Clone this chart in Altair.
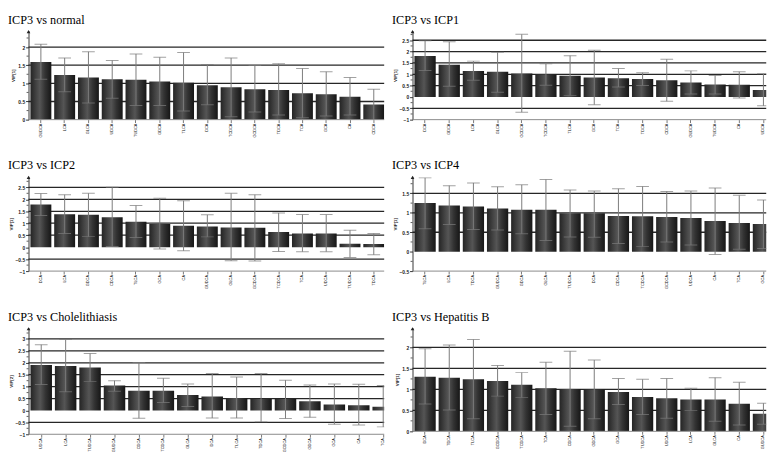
import altair as alt
import pandas as pd

# ---------------- data ----------------
titles = ["ICP3 vs normal", "ICP3 vs ICP1", "ICP3 vs ICP2",
          "ICP3 vs ICP4", "ICP3 vs Cholelithiasis", "ICP3 vs Hepatitis B"]

normal_cats = ["GUDCA", "LCA", "GLCA", "UDCA", "TUDCA", "GDCA", "TLCA", "DCA",
               "TCDCA", "GCDCA", "TDCA", "TCA", "GCA", "CA", "CDCA"]
normal_vip = [1.59, 1.23, 1.16, 1.11, 1.10, 1.05, 1.02, 0.95, 0.89, 0.84, 0.82, 0.73, 0.70, 0.63, 0.42]
normal_hi = [2.08, 1.70, 1.87, 1.63, 1.81, 1.72, 1.85, 1.52, 1.70, 1.49, 1.54, 1.41, 1.32, 1.16, 0.84]
normal_lo = [1.11, 0.77, 0.46, 0.59, 0.39, 0.39, 0.24, 0.41, 0.08, 0.21, 0.13, 0.05, 0.10, 0.13, 0.00]

icp1_cats = ["DCA", "GDCA", "LCA", "GLCA", "GCDCA", "TCDCA", "TLCA", "GCA",
             "TCA", "TDCA", "CDCA", "GUDCA", "TUDCA", "CA", "UDCA"]
icp1_vip = [1.81, 1.42, 1.15, 1.11, 1.03, 0.99, 0.94, 0.86, 0.83, 0.79, 0.74, 0.64, 0.55, 0.54, 0.31]
icp1_hi = [2.48, 2.43, 1.58, 1.97, 2.76, 1.46, 1.82, 2.06, 1.25, 1.07, 1.66, 1.15, 0.95, 1.11, 1.02]
icp1_lo = [1.17, 0.47, 0.74, 0.21, -0.67, 0.52, 0.07, -0.34, 0.44, 0.51, -0.19, 0.13, 0.13, -0.05, -0.39]

icp2_cats = ["DCA", "LCA", "GDCA", "CDCA", "TLCA", "GCA", "CA", "GUDCA",
             "GLCA", "GCDCA", "TCDCA", "TCA", "UDCA", "TUDCA", "TDCA"]
icp2_vip = [1.78, 1.38, 1.35, 1.25, 1.06, 0.97, 0.89, 0.86, 0.82, 0.81, 0.63, 0.57, 0.57, 0.14, 0.13]
icp2_hi = [2.24, 2.19, 2.25, 2.50, 1.74, 2.04, 1.94, 1.35, 2.25, 2.19, 1.43, 1.36, 1.36, 0.71, 0.57]
icp2_lo = [1.32, 0.57, 0.44, 0.03, 0.40, -0.08, -0.15, 0.43, -0.57, -0.58, -0.18, -0.19, -0.19, -0.43, -0.32]

icp4_cats = ["TLCA", "LCA", "TDCA", "GUDCA", "GDCA", "GLCA", "TUDCA", "DCA",
             "CDCA", "TCDCA", "GCDCA", "UDCA", "CA", "TCA", "GCA"]
icp4_vip = [1.25, 1.19, 1.16, 1.11, 1.08, 1.08, 0.99, 0.99, 0.92, 0.91, 0.89, 0.87, 0.79, 0.74, 0.71]
icp4_hi = [1.90, 1.70, 1.77, 1.67, 1.72, 1.86, 1.59, 1.56, 1.62, 1.68, 1.55, 1.56, 1.64, 1.45, 1.33]
icp4_lo = [0.59, 0.70, 0.57, 0.56, 0.46, 0.29, 0.38, 0.37, 0.21, 0.13, 0.25, 0.17, -0.07, 0.06, 0.08]

chol_cats = ["UDCA", "LCA", "TUDCA", "GUDCA", "CDCA", "TCDCA", "GLCA", "DCA",
             "TLCA", "TDCA", "GCDCA", "GDCA", "GCA", "CA", "TCA"]
chol_vip = [1.91, 1.87, 1.80, 1.05, 0.83, 0.83, 0.65, 0.59, 0.52, 0.48, 0.48, 0.39, 0.25, 0.22, 0.15]
chol_hi = [2.76, 2.98, 2.39, 1.25, 2.01, 1.35, 1.11, 1.55, 1.40, 1.55, 1.27, 1.07, 1.11, 1.10, 1.05]
chol_lo = [1.09, 0.78, 1.21, 0.81, -0.33, 0.33, 0.17, -0.32, -0.32, -0.48, -0.34, -0.29, -0.58, -0.61, -0.69]

hbv_cats = ["DCA", "TDCA", "TLCA", "GCDCA", "TCDCA", "TCA", "CDCA", "GDCA",
            "GCA", "TUDCA", "UDCA", "LCA", "GLCA", "CA", "GUDCA"]
hbv_vip = [1.30, 1.28, 1.24, 1.20, 1.11, 1.03, 1.01, 1.00, 0.94, 0.82, 0.79, 0.76, 0.76, 0.66, 0.42]
hbv_hi = [1.97, 2.06, 2.19, 1.57, 1.40, 1.65, 1.91, 1.70, 1.26, 1.24, 1.26, 1.03, 1.28, 1.17, 0.67]
hbv_lo = [0.65, 0.51, 0.30, 0.84, 0.81, 0.40, 0.12, 0.30, 0.64, 0.40, 0.31, 0.50, 0.24, 0.15, 0.17]

y_domains = [[0, 2.45], [-1, 2.92], [-1, 2.96], [-0.5, 1.94], [-1, 3.47], [0, 2.47]]
y_ticks = [[0, 0.5, 1, 1.5, 2],
           [-1, -0.5, 0, 0.5, 1, 1.5, 2, 2.5],
           [-1, -0.5, 0, 0.5, 1, 1.5, 2, 2.5],
           [-0.5, 0, 0.5, 1, 1.5],
           [-1, -0.5, 0, 0.5, 1, 1.5, 2, 2.5, 3],
           [0, 0.5, 1, 1.5, 2]]
y_titles = ["VIP[1]", "VIP[1]", "VIP[1]", "VIP[1]", "VIP[2]", "VIP[1]"]

# ---------------- styling ----------------
bar_fill = alt.Gradient(
    gradient="linear", x1=0, x2=1, y1=0, y2=0,
    stops=[alt.GradientStop(color="#242424", offset=0),
           alt.GradientStop(color="#434343", offset=0.28),
           alt.GradientStop(color="#555555", offset=0.45),
           alt.GradientStop(color="#333333", offset=0.7),
           alt.GradientStop(color="#161616", offset=1)])

ERR = "#7a7a7a"
GRID = "#262626"


def panel(title, cats, vip, lo, hi, dom, ticks, ytitle, width, height, rng):
    df = pd.DataFrame({"acid": cats, "vip": vip, "lo": lo, "hi": hi})
    ys = alt.Scale(domain=dom, nice=False, zero=False)
    yaxis = alt.Axis(values=ticks, format="~g", title=ytitle, grid=False,
                     titleFontSize=4.5, titleFontWeight="bold", titlePadding=2,
                     titleColor="#222", labelFontSize=5, labelFontWeight="bold",
                     labelColor="#222", labelPadding=1, tickSize=3,
                     tickColor="#333", domainColor="#333")
    xaxis = alt.Axis(title=None, labelAngle=-90, labelFontSize=4,
                     labelColor="#111", labelPadding=0.5, tickSize=3,
                     tickColor="#777", domain=False, labelFont="Liberation Sans")
    xs = alt.Scale(domain=cats, range=[0, rng], paddingInner=0.12, paddingOuter=0.08)
    x = alt.X("acid:N", sort=cats, scale=xs, axis=xaxis)

    grid_vals = [t for t in ticks if t != 0 and t != dom[0]]
    minor_vals = [t + 0.25 for t in ticks if t + 0.25 < dom[1]]

    grid = alt.Chart(pd.DataFrame({"g": grid_vals})).mark_rule(
        color=GRID, strokeWidth=1.3).encode(
        y=alt.Y("g:Q", scale=ys, axis=yaxis), x=alt.value(0), x2=alt.value(width))
    bars = alt.Chart(df).mark_bar(color=bar_fill, clip=True).encode(
        x=x, y=alt.Y("vip:Q", scale=ys, axis=yaxis), y2=alt.datum(0))
    err = alt.Chart(df).mark_rule(color=ERR, strokeWidth=1, clip=True).encode(
        x=x, y=alt.Y("lo:Q", scale=ys, axis=yaxis), y2="hi:Q")
    cap_hi = alt.Chart(df).mark_tick(color=ERR, thickness=1, size=13, clip=True).encode(
        x=x, y=alt.Y("hi:Q", scale=ys, axis=yaxis))
    cap_lo = alt.Chart(df).mark_tick(color=ERR, thickness=1, size=13, clip=True).encode(
        x=x, y=alt.Y("lo:Q", scale=ys, axis=yaxis))
    minor = alt.Chart(pd.DataFrame({"m": minor_vals})).mark_rule(
        color="#333", strokeWidth=0.8).encode(
        y=alt.Y("m:Q", scale=ys, axis=yaxis), x=alt.value(-2), x2=alt.value(0))
    base = alt.Chart(pd.DataFrame({"b": [0]})).mark_rule(
        color="#888", strokeWidth=1).encode(
        x=alt.value(0), x2=alt.value(width), y=alt.value(height))
    arrow = alt.Chart(pd.DataFrame({"a": [0]})).mark_point(
        shape="triangle-up", filled=True, size=14, color="#222", opacity=1).encode(
        x=alt.value(0), y=alt.value(1))

    return alt.layer(grid, bars, err, cap_hi, cap_lo, minor, base, arrow).properties(
        width=width, height=height,
        title=alt.TitleParams(text=title, anchor="start", frame="group", dx=-21,
                              offset=-9, font="Liberation Serif", fontSize=12.5,
                              fontWeight="normal", color="#000", baseline="bottom"))


WL, WR = 364, 362
p1 = panel(titles[0], normal_cats, normal_vip, normal_lo, normal_hi, y_domains[0], y_ticks[0], y_titles[0], WL, 91, 366)
p2 = panel(titles[1], icp1_cats, icp1_vip, icp1_lo, icp1_hi, y_domains[1], y_ticks[1], y_titles[1], WR, 91, 372)
p3 = panel(titles[2], icp2_cats, icp2_vip, icp2_lo, icp2_hi, y_domains[2], y_ticks[2], y_titles[2], WL, 97, 366)
p4 = panel(titles[3], icp4_cats, icp4_vip, icp4_lo, icp4_hi, y_domains[3], y_ticks[3], y_titles[3], WR, 97, 372)
p5 = panel(titles[4], chol_cats, chol_vip, chol_lo, chol_hi, y_domains[4], y_ticks[4], y_titles[4], WL, 109, 376)
p6 = panel(titles[5], hbv_cats, hbv_vip, hbv_lo, hbv_hi, y_domains[5], y_ticks[5], y_titles[5], WR, 106, 372)

chart = alt.concat(p1, p2, p3, p4, p5, p6, columns=2).properties(
    align="each", bounds="flush", spacing={"row": 58, "column": 29},
    padding=0,
    background="white",
).configure_view(stroke=None)

chart.save("out.html", embed_options={"renderer": "svg", "actions": False})
